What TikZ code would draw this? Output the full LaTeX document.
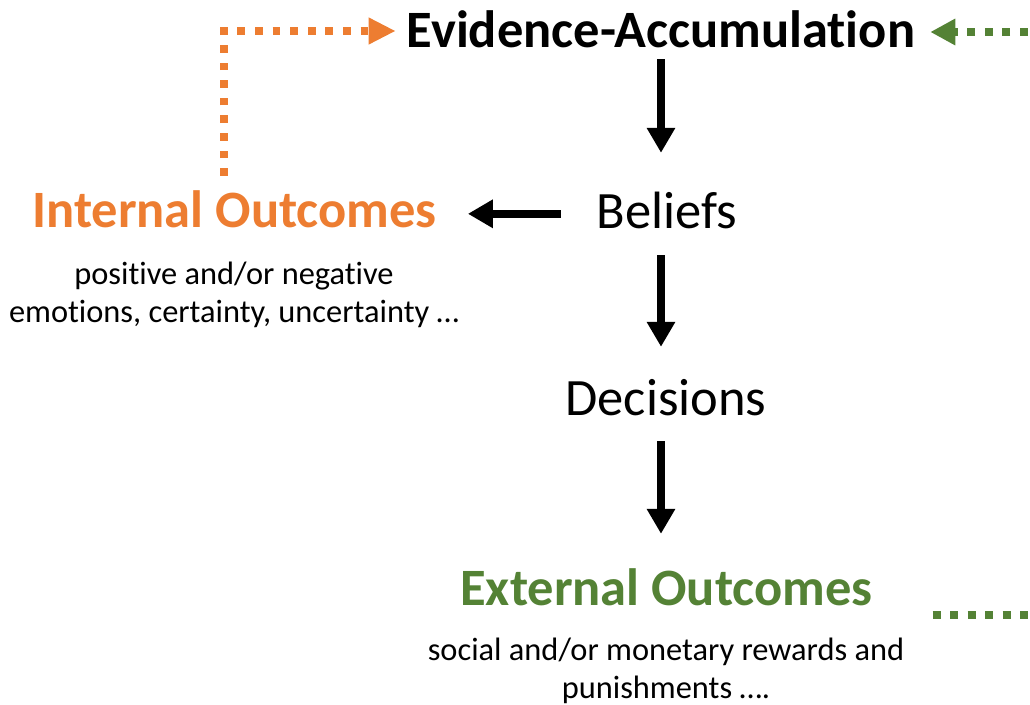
\documentclass[tikz,border=0pt]{standalone}
\usepackage{fontspec}
\setmainfont{Carlito}[Ligatures={NoCommon,NoContextual}]
\usetikzlibrary{arrows.meta}
\definecolor{accorange}{HTML}{ED7D31}
\definecolor{accgreen}{HTML}{548235}

\begin{document}
\begin{tikzpicture}[x=1pt,y=-1pt,
  big/.style={inner sep=0pt, anchor=base, text height=33pt, text depth=0pt,
    font=\fontsize{52.5}{63}\selectfont},
  bigbold/.style={big, font=\fontsize{52.5}{63}\selectfont\bfseries},
  note/.style={inner sep=0pt, anchor=north, align=center,
    font=\fontsize{32.4}{37.7}\selectfont},
  flow/.style={line width=8.5pt, -{Triangle[length=25pt,width=27pt]}},
  feedback/.style={line width=7.7pt, dash pattern=on 7.7pt off 9.9pt},
]
\useasboundingbox (0,0) rectangle (1030,704);
\clip (0,0) rectangle (1030,704);

% main chain
\node[bigbold] (ev)  at (661,47.5) {Evidence-Accumulation};
\node[big]     (bel) at (667,228.3) {Beliefs};
\node[big]     (dec) at (666,415) {Decisions};
\node[bigbold, text=accgreen]  (eo) at (666.5,605) {External Outcomes};
\node[bigbold, text=accorange] (io) at (234.5,227.7) {Internal Outcomes};

% descriptions
\node[note] (iotxt) at (234,262) {positive and/or negative\\emotions, certainty, uncertainty …};
\node[note] (eotxt) at (666,638) {social and/or monetary rewards and\\punishments ….};

% solid flow arrows
\draw[flow, shorten <=11.5pt, shorten >=42.3pt] (ev.south) -- (ev.south |- bel.north);
\draw[flow, shorten <=26.7pt, shorten >=35pt] (ev.south |- bel.south) -- (ev.south |- dec.north);
\draw[flow, shorten <=26pt, shorten >=38pt] (ev.south |- dec.south) -- (ev.south |- eo.north);
\draw[flow, shorten <=36pt, shorten >=31pt] ([yshift=-2pt]bel.west) -- ([yshift=-2pt]bel.west -| io.east);

% internal feedback loop
\draw[feedback, accorange, shorten <=18.7pt, shorten >=11pt,
  -{Triangle[length=27pt,width=25pt]}]
  ([xshift=-10.7pt]io.north) |- (ev.west);

% external feedback loop (runs out past the right edge)
\coordinate (gstart) at (932.7,615);
\coordinate (gcorner) at (1038.6,615);
\draw[feedback, accgreen, line width=8pt, dash pattern=on 8pt off 9.5pt,
  shorten >=15pt, -{Triangle[length=25pt,width=25pt]}]
  (gstart) -- (gcorner) |- ([yshift=-1pt]ev.east);
\end{tikzpicture}
\end{document}
